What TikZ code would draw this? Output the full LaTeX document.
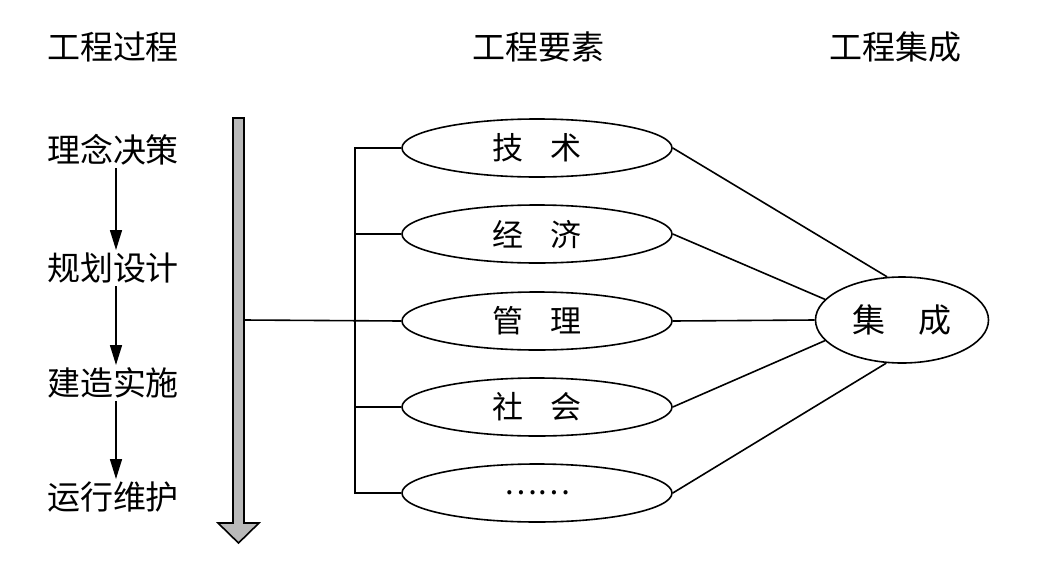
\documentclass[tikz,border=0pt]{standalone}
\usepackage{fontspec}
\newfontfamily\cjk{Noto Sans CJK SC}
\usetikzlibrary{arrows.meta,shapes.geometric}
\begin{document}
\begin{tikzpicture}[x=1pt,y=-1pt,
  txt/.style={font=\cjk\fontsize{33}{33}\selectfont, inner sep=0pt},
  elem/.style={draw, line width=1.6pt, ellipse, minimum width=270pt, minimum height=58pt, inner sep=0pt, font=\cjk\fontsize{31}{31}\selectfont},
  conn/.style={line width=1.6pt},
  flow/.style={line width=1.6pt, -{Triangle[length=20pt,width=12pt]}}
]
\useasboundingbox (0,0) rectangle (1037,579);
% headers
\node[txt] (h1) at (113,47) {工程过程};
\node[txt] (h2) at (538,47) {工程要素};
\node[txt] (h3) at (895,47) {工程集成};
% process steps
\node[txt] (p1) at (113,150) {理念决策};
\node[txt] (p2) at (113,268) {规划设计};
\node[txt] (p3) at (113,383) {建造实施};
\node[txt] (p4) at (113,497) {运行维护};
\coordinate (a1s) at (116,168);
\coordinate (a1e) at (116,250);
\coordinate (a2s) at (116,286);
\coordinate (a2e) at (116,365);
\coordinate (a3s) at (116,401);
\coordinate (a3e) at (116,479);
\draw[flow] (a1s) -- (a1e);
\draw[flow] (a2s) -- (a2e);
\draw[flow] (a3s) -- (a3e);
% gray arrow
\draw[line width=1.6pt, fill=gray!55, line join=miter]
  (233,118) -- (244,118) -- (244,523) -- (259,523) -- (238.5,543) -- (218,523) -- (233,523) -- cycle;
\coordinate (gs) at (244,320);
% elements
\node[elem] (e1) at (537,148) {技\hspace{0.9em}术};
\node[elem] (e2) at (537,234) {经\hspace{0.9em}济};
\node[elem] (e3) at (537,321) {管\hspace{0.9em}理};
\node[elem] (e4) at (537,407) {社\hspace{0.9em}会};
\node[elem] (e5) at (537,493) {……};
% integration
\node[draw, line width=1.6pt, ellipse, minimum width=173pt, minimum height=86pt, inner sep=0pt, font=\cjk\fontsize{33}{33}\selectfont] (ji) at (902,320) {集\hspace{1em}成};
% bracket
\coordinate (bt) at (355,148);
\coordinate (bb) at (355,493);
\draw[conn] (e1.west) -- (bt) -- (bb) -- (e5.west);
\draw[conn] (e2.west) -- (e2.west -| bt);
\draw[conn] (e4.west) -- (e4.west -| bt);
\draw[conn] (gs) -- (e3.west);
% to integration
\draw[conn] (e1.east) -- (ji.109);
\draw[conn] (e2.east) -- (ji.165);
\draw[conn] (e3.east) -- (ji.west);
\draw[conn] (e4.east) -- (ji.195);
\draw[conn] (e5.east) -- (ji.250);
\end{tikzpicture}
\end{document}
